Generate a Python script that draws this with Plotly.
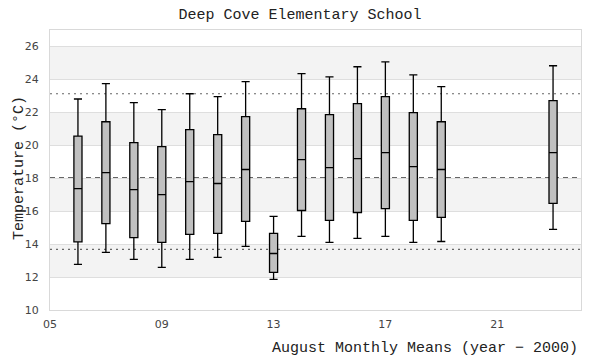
import plotly.graph_objects as go

years = [6, 7, 8, 9, 10, 11, 12, 13, 14, 15, 16, 17, 18, 19, 23]
upper = [22.81, 23.74, 22.59, 22.16, 23.13, 22.95, 23.86, 15.68, 24.35, 24.16, 24.77, 25.07, 24.28, 23.56, 24.83]
q3 = [20.56, 21.43, 20.16, 19.92, 20.95, 20.65, 21.74, 14.65, 22.22, 21.86, 22.53, 22.95, 21.98, 21.43, 22.71]
median = [17.37, 18.34, 17.31, 17.01, 17.80, 17.68, 18.53, 13.43, 19.13, 18.65, 19.19, 19.56, 18.71, 18.53, 19.56]
q1 = [14.14, 15.25, 14.40, 14.10, 14.59, 14.65, 15.38, 12.28, 16.04, 15.44, 15.92, 16.16, 15.44, 15.62, 16.47]
lower = [12.77, 13.50, 13.07, 12.59, 13.07, 13.19, 13.86, 11.86, 14.47, 14.10, 14.35, 14.47, 14.10, 14.16, 14.89]

ref_mean = 18.04
ref_high = 23.13
ref_low = 13.68

x_ticks = [5, 9, 13, 17, 21]
x_ticklabels = ["05", "09", "13", "17", "21"]
y_ticks = [10, 12, 14, 16, 18, 20, 22, 24, 26]
band_ranges = [(12, 14), (16, 18), (20, 22), (24, 26)]

mono = "Liberation Mono"
sans = "DejaVu Sans"

W, H = 600, 360
L, R, T, B = 50, 19, 30, 50
pw = W - L - R
ph = H - T - B

fig = go.Figure()
fig.add_trace(go.Box(
    x=years, q1=q1, median=median, q3=q3,
    lowerfence=lower, upperfence=upper,
    width=0.29, whiskerwidth=1,
    fillcolor="#c0c0c0",
    line=dict(color="black", width=1.3),
    boxpoints=False, showlegend=False, hoverinfo="skip",
))

shapes = []
for lo, hi in band_ranges:
    shapes.append(dict(type="rect", xref="paper", yref="y", x0=0, x1=1, y0=lo, y1=hi,
                       fillcolor="#f3f3f3", line=dict(width=0), layer="below"))
for val, dash in [(ref_high, "2px,4px"), (ref_mean, "5px,4px"), (ref_low, "2px,4px")]:
    shapes.append(dict(type="line", xref="paper", yref="y", x0=0, x1=1, y0=val, y1=val,
                       line=dict(color="#666666", width=1.2, dash=dash), layer="between"))

annotations = [
    dict(text="August Monthly Means (year − 2000)", xref="paper", yref="paper",
         x=(580 - L) / pw, y=-(348 - (T + ph)) / ph, xanchor="right", yanchor="middle",
         showarrow=False, font=dict(family=mono, size=15, color="#222222")),
    dict(text="Temperature (°C)", xref="paper", yref="paper",
         x=(19 - L) / pw, y=(T + ph - 168) / ph, xanchor="center", yanchor="middle",
         textangle=-90, showarrow=False, font=dict(family=mono, size=15, color="#222222")),
]

fig.update_layout(
    width=W, height=H,
    margin=dict(l=L, r=R, t=T, b=B),
    paper_bgcolor="white", plot_bgcolor="white",
    title=dict(text="Deep Cove Elementary School", x=0.5, xanchor="center",
               y=1 - 14 / H, yanchor="middle",
               font=dict(family=mono, size=15, color="#222222")),
    shapes=shapes,
    annotations=annotations,
    xaxis=dict(range=[5, 24], tickvals=x_ticks, ticktext=x_ticklabels, automargin=False,
               showgrid=False, zeroline=False, showline=True, mirror=True,
               linecolor="#d9d9d9", linewidth=1, ticks="", ticklabelstandoff=4,
               tickfont=dict(family=sans, size=11, color="#444444")),
    yaxis=dict(range=[10, 27], tickvals=y_ticks, automargin=False,
               showgrid=True, gridcolor="#dedede", gridwidth=1, zeroline=False,
               showline=True, mirror=True, linecolor="#d9d9d9", linewidth=1, ticks="",
               ticklabelstandoff=8,
               tickfont=dict(family=sans, size=11, color="#444444")),
)

fig.write_html("out.html", config={"displayModeBar": False},
               post_script="document.body.style.margin='0px';")
